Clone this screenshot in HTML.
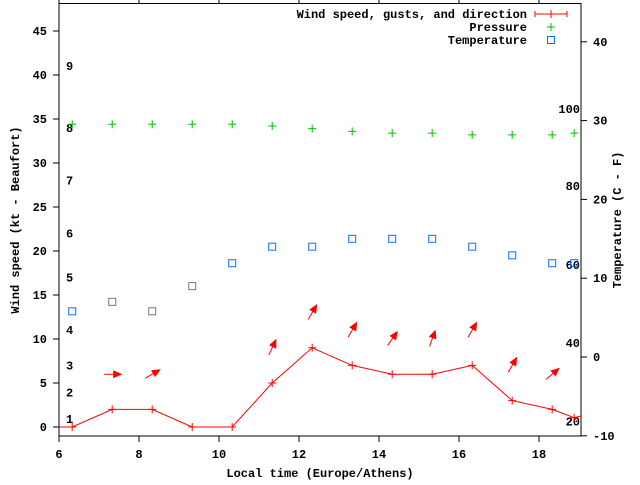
<!DOCTYPE html>
<html><head><meta charset="utf-8"><style>
body{margin:0;background:#fff}
svg text{font-family:"Liberation Mono",monospace;font-size:12px;font-weight:bold;fill:#000}
</style></head><body>
<svg id="c" width="640" height="480">
<rect x="0" y="0" width="640" height="480" fill="#fff"/>
<g id="g"></g>
</svg>
<script>
const times=[5.33,6.33,7.33,8.33,9.33,10.33,11.33,12.33,13.33,14.33,15.33,16.33,17.33,18.33,18.88,19.33];
const windSpeed=[0,0,2,2,0,0,5,9,7,6,6,7,3,2,1.05,1.6];
const pTimes=[6.33,7.33,8.33,9.33,10.33,11.33,12.33,13.33,14.33,15.33,16.33,17.33,18.33,18.88];
const pressure=[34.4,34.4,34.4,34.4,34.4,34.2,33.9,33.6,33.4,33.4,33.2,33.2,33.2,33.4];
const temperature=[5.8,7.0,5.8,9.0,11.9,14.0,14.0,15.0,15.0,15.0,14.0,12.9,11.9,11.9];
const tempColors=["#0a6eff","#777","#777","#777","#0a6eff","#0a6eff","#0a6eff","#0a6eff","#0a6eff","#0a6eff","#0a6eff","#0a6eff","#0a6eff","#0a6eff"];
const arrowTimes=[7.33,8.33,11.33,12.33,13.33,14.33,15.33,16.33,17.33,18.33];
const gusts=[6,6,9,13,11,10,10,11,7,6];
const dirAngles=[0,30,65,60,60,55,70,60,60,40];
const xTicks=[6,8,10,12,14,16,18];
const yTicks=[0,5,10,15,20,25,30,35,40,45];
const y2Ticks=[-10,0,10,20,30,40];
const beaufort=[[1,0.9],[2,3.9],[3,7],[4,11],[5,17],[6,22],[7,28],[8,34],[9,41]];
const fahr=[[20,1.8],[40,11.8],[60,21.7],[80,31.7],[100,41.5]];
const L=59,R=581,T=3.5,B=436;
const X=t=>L+(t-6)*40;
const Y=v=>427-v*8.8;
const Y2=v=>357-v*7.88;
const g=document.getElementById('g');
const NS='http://www.w3.org/2000/svg';
function el(tag,a,txt){const e=document.createElementNS(NS,tag);for(const k in a)e.setAttribute(k,a[k]);if(txt!=null)e.textContent=txt;g.appendChild(e);return e;}
// border
let e=el('rect',{x:L,y:T,width:R-L,height:B-T,fill:'none',stroke:'#000','stroke-width':1});


xTicks.forEach(t=>{
 let a=el('line',{x1:X(t),x2:X(t),y1:B,y2:B+6,stroke:'#000'});
 
 
 let b=el('line',{x1:X(t),x2:X(t),y1:T,y2:T-6,stroke:'#000'});
 
 
 let tx=el('text',{x:X(t),y:B+22,'text-anchor':'middle'},t);
 
 
});
yTicks.forEach(v=>{
 let a=el('line',{x1:L-6,x2:L,y1:Y(v),y2:Y(v),stroke:'#000'});
 
 
 let tx=el('text',{x:L-12,y:Y(v)+4,'text-anchor':'end'},v);
 
 
});
y2Ticks.forEach(v=>{
 let a=el('line',{x1:R,x2:R+6,y1:Y2(v),y2:Y2(v),stroke:'#000'});
 
 
 let tx=el('text',{x:R+12,y:Y2(v)+4,'text-anchor':'start'},v);
 
 
});
beaufort.forEach(([n,v])=>{
 let tx=el('text',{x:66,y:Y(v)+4},n);
 
 
});
fahr.forEach(([n,v])=>{
 let tx=el('text',{x:580,y:Y2(v-10)+4,'text-anchor':'end'},n);
 
 
});
// clip
const defs=el('defs',{});
const cp=document.createElementNS(NS,'clipPath');cp.setAttribute('id','cp');
const cr=document.createElementNS(NS,'rect');cr.setAttribute('x',L);cr.setAttribute('y',T);cr.setAttribute('width',R-L);cr.setAttribute('height',B-T);
cp.appendChild(cr);defs.appendChild(cp);
const pg=el('g',{'clip-path':'url(#cp)'});
function add(tag,a){const e=document.createElementNS(NS,tag);for(const k in a)e.setAttribute(k,a[k]);pg.appendChild(e);return e;}
// wind line
let pts=times.map((t,i)=>X(t)+','+Y(windSpeed[i])).join(' ');
let wl=add('polyline',{points:pts,fill:'none',stroke:'#f00','stroke-width':1});


times.forEach((t,i)=>{
 let m=add('path',{d:`M${X(t)-4},${Y(windSpeed[i])}h8M${X(t)},${Y(windSpeed[i])-4}v8`,stroke:'#f00'});
 
 
});
pTimes.forEach((t,i)=>{
 let m=add('path',{d:`M${X(t)-4},${Y(pressure[i])}h8M${X(t)},${Y(pressure[i])-4}v8`,stroke:'#00c000'});
 
 
});
pTimes.forEach((t,i)=>{
 let m=add('rect',{x:X(t)-3.5,y:Y2(temperature[i])-3.5,width:7,height:7,fill:'none',stroke:tempColors[i]});
 
 
});
arrowTimes.forEach((t,i)=>{
 const a=dirAngles[i]*Math.PI/180,cx=X(t),cy=Y(gusts[i]);
 const dx=Math.cos(a)*8,dy=-Math.sin(a)*8;
 const hx=cx+dx,hy=cy+dy;
 const ux=Math.cos(a),uy=-Math.sin(a),px=-uy,py=ux;
 let ln=add('line',{x1:cx-dx,y1:cy-dy,x2:hx,y2:hy,stroke:'#f00'});
 
 
 let hd=add('polygon',{points:`${hx+ux*2},${hy+uy*2} ${hx-ux*7+px*4},${hy-uy*7+py*4} ${hx-ux*7-px*4},${hy-uy*7-py*4}`,fill:'#f00'});
 
 
});
// legend
const leg=[["Wind speed, gusts, and direction",14],["Pressure",27],["Temperature",40]];
leg.forEach(([s,y])=>{
 let tx=el('text',{x:527,y:y+4,'text-anchor':'end'},s);
 
 
});
let l1=el('path',{d:'M535,14h32M535,11v6M567,11v6M551,10v8',stroke:'#f00'});


let l2=el('path',{d:'M547,27h8M551,23v8',stroke:'#00c000'});


let l3=el('rect',{x:547.5,y:36.5,width:7,height:7,fill:'none',stroke:'#0a6eff'});


// axis titles
let xt=el('text',{x:320,y:477,'text-anchor':'middle'},'Local time (Europe/Athens)');


let yt=el('text',{x:0,y:0,'text-anchor':'middle',transform:'translate(19,220) rotate(-90)'},'Wind speed (kt - Beaufort)');


let y2t=el('text',{x:0,y:0,'text-anchor':'middle',transform:'translate(621,220) rotate(-90)'},'Temperature (C - F)');


</script>
</body></html>
